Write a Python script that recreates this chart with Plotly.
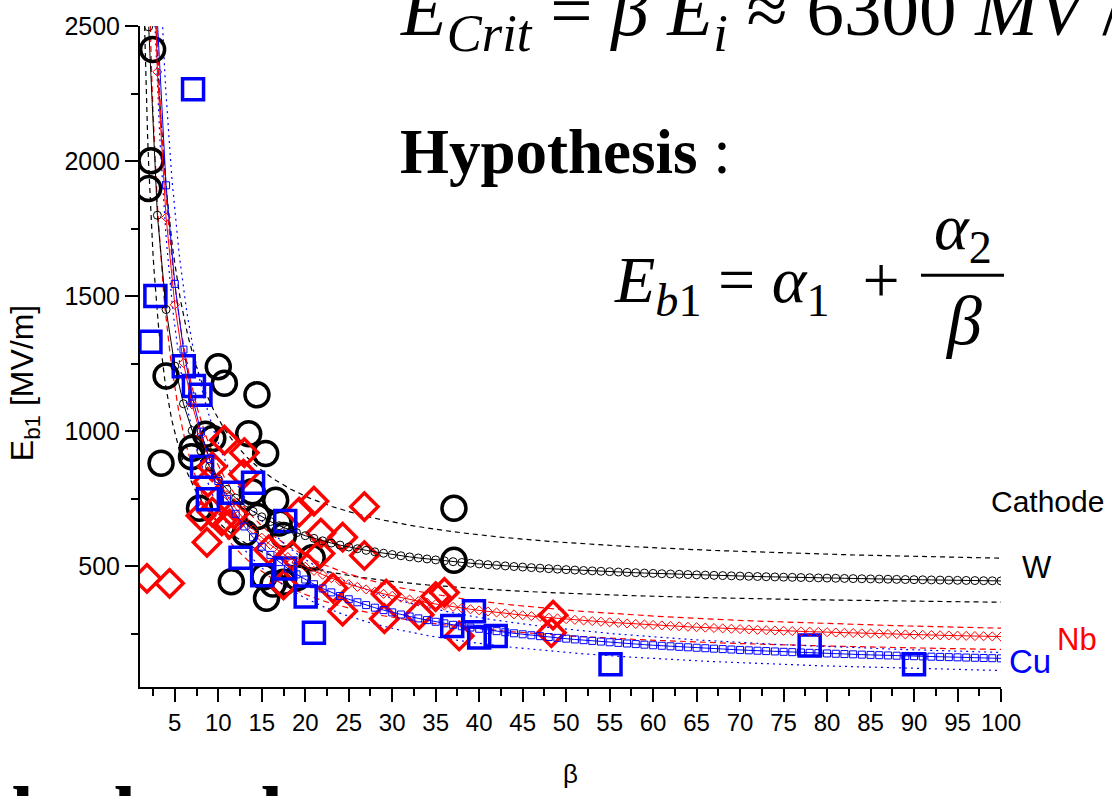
import numpy as np
import plotly.graph_objects as go

# ---------------- data ----------------
w_beta = [2.45, 2.27, 2.0, 4.0, 3.42, 10.0, 10.7, 14.45, 8.53, 9.37, 7.0, 6.92, 13.5, 15.45,
          7.84, 13.9, 16.6, 14.5, 17.0, 17.5, 13.1, 20.8, 11.5, 15.25, 15.55, 16.3, 17.5, 19.1,
          37.1, 37.1]
w_E = [2413, 2001, 1898, 1204, 881, 1238, 1177, 1134, 988, 972, 936, 905, 990, 917,
       714, 775, 744, 683, 659, 613, 621, 531, 442, 460, 381, 433, 440, 457,
       714, 521]

nb_beta = [1.8, 4.4, 8.7, 10.7, 13.0, 12.9, 9.3, 8.8, 9.3, 11.3, 8.0, 10.4, 11.8, 21.0,
           26.8, 19.3, 21.8, 24.3, 26.8, 21.7, 18.5, 17.5, 23.2, 24.3, 29.3, 29.1, 33.1,
           35.0, 36.0, 37.7, 48.5, 48.3, 15.8]
nb_E = [454, 436, 588, 966, 920, 840, 868, 810, 700, 655, 686, 667, 692, 740,
        720, 700, 622, 607, 539, 546, 539, 430, 418, 333, 396, 305, 320,
        387, 402, 241, 318, 253, 560]

cu_beta = [7.1, 2.77, 2.2, 6.03, 7.2, 7.95, 8.14, 8.8, 11.6, 14.0, 17.7, 12.56, 15.05, 17.7,
           20.05, 21.0, 36.9, 39.4, 40.0, 41.9, 55.1, 78.0, 90.0]
cu_E = [2266, 1500, 1331, 1240, 1167, 1134, 868, 747, 771, 808, 667, 531, 466, 491,
        387, 253, 278, 333, 235, 241, 136, 206, 136]

# fit parameters  E = a1 + a2/beta  (fit, upper band, lower band)
w_fit = [403, 4188]
w_upper = [472, 5733]
w_lower = [333, 3300]
nb_fit = [174, 6468]
nb_upper = [203, 6690]
nb_lower = [140, 5100]
cu_fit = [85, 7300]
cu_upper = [94, 8600]
cu_lower = [46, 6700]

x_ticks = [5, 10, 15, 20, 25, 30, 35, 40, 45, 50, 55, 60, 65, 70, 75, 80, 85, 90, 95, 100]
y_ticks = [500, 1000, 1500, 2000, 2500]

BLACK = "#000000"
RED = "#ff0000"
BLUE = "#0000ff"

fit_beta = np.arange(2, 101, 1.0)
band_beta = np.linspace(1.0, 100, 800)


def curve(p, b):
    return p[0] + p[1] / b


fig = go.Figure()

# bands
for p, col, dash in [(w_upper, BLACK, "5px,4px"), (w_lower, BLACK, "5px,4px"),
                     (nb_upper, RED, "6px,4px"), (nb_lower, RED, "6px,4px"),
                     (cu_upper, BLUE, "2px,4px"), (cu_lower, BLUE, "2px,4px")]:
    fig.add_trace(go.Scatter(x=band_beta, y=curve(p, band_beta), mode="lines",
                             line=dict(color=col, width=1.2, dash=dash), hoverinfo="skip"))

# data
fig.add_trace(go.Scatter(x=w_beta, y=w_E, mode="markers", name="W",
                         marker=dict(symbol="circle-open", size=24, color=BLACK,
                                     line=dict(width=3.5, color=BLACK))))
fig.add_trace(go.Scatter(x=nb_beta, y=nb_E, mode="markers", name="Nb",
                         marker=dict(symbol="diamond-open", size=21, color=RED,
                                     line=dict(width=3.5, color=RED))))
fig.add_trace(go.Scatter(x=cu_beta, y=cu_E, mode="markers", name="Cu",
                         marker=dict(symbol="square-open", size=21, color=BLUE,
                                     line=dict(width=3.5, color=BLUE))))

# fits
for p, col, sym, sz in [(w_fit, BLACK, "circle-open", 8), (nb_fit, RED, "diamond-open", 7),
                        (cu_fit, BLUE, "square-open", 7)]:
    fig.add_trace(go.Scatter(x=fit_beta, y=curve(p, fit_beta), mode="lines+markers",
                             line=dict(color=col, width=1),
                             marker=dict(symbol=sym, size=sz, color=col,
                                         line=dict(width=1, color=col))))

L, R, T, B = 140, 1001, 20, 688


def px(x):
    return (x - L) / (R - L)


def py(y):
    return (B - y) / (B - T)


serif = "Liberation Serif, Times New Roman, serif"
sans = "Liberation Sans, Arial, sans-serif"

ann = []
ann.append(dict(text="<i>E</i><sub><i>Crit</i></sub> = <i>β E</i><sub><i>i</i></sub> ≈ 6300 <i>MV</i> / <i>m</i>",
                x=px(398), y=py(9), xanchor="left", yanchor="middle",
                font=dict(family=serif, size=75, color=BLACK)))
ann.append(dict(text="<b>Hypothesis</b> :", x=px(398), y=py(147), xanchor="left", yanchor="middle",
                font=dict(family=serif, size=63, color=BLACK)))
ann.append(dict(text="<i>E</i><sub><i>b</i>1</sub> = <i>α</i><sub>1</sub>  + ",
                x=px(612), y=py(281), xanchor="left", yanchor="middle",
                font=dict(family=serif, size=66, color=BLACK)))
ann.append(dict(text="<i>α</i><sub>2</sub>", x=px(963), y=py(228), xanchor="center", yanchor="middle",
                font=dict(family=serif, size=66, color=BLACK)))
ann.append(dict(text="<i>β</i>", x=px(963), y=py(318), xanchor="center", yanchor="middle",
                font=dict(family=serif, size=70, color=BLACK)))
ann.append(dict(text="<b>calculated</b>", x=px(-66), y=py(817), xanchor="left", yanchor="middle",
                font=dict(family=serif, size=80, color=BLACK)))
ann.append(dict(text="Cathode", x=px(1106), y=py(501), xanchor="right", yanchor="middle",
                font=dict(family=sans, size=30, color=BLACK)))
ann.append(dict(text="W", x=px(1037), y=py(567), xanchor="center", yanchor="middle",
                font=dict(family=sans, size=31, color=BLACK)))
ann.append(dict(text="Nb", x=px(1077), y=py(640), xanchor="center", yanchor="middle",
                font=dict(family=sans, size=31, color=RED)))
ann.append(dict(text="Cu", x=px(1030), y=py(662), xanchor="center", yanchor="middle",
                font=dict(family=sans, size=33, color=BLUE)))
ann.append(dict(text="E<sub>b1</sub> [MV/m]", x=px(24), y=py(381), xanchor="center", yanchor="middle",
                textangle=-90, font=dict(family=sans, size=32, color=BLACK)))
for a in ann:
    a.update(xref="paper", yref="paper", showarrow=False)

fig.update_layout(
    width=1112, height=796,
    margin=dict(l=L, r=1112 - R, t=T, b=796 - B),
    plot_bgcolor="white", paper_bgcolor="white",
    showlegend=False,
    annotations=ann,
    shapes=[dict(type="line", xref="paper", yref="paper", x0=px(921), x1=px(1004),
                 y0=py(272), y1=py(272), line=dict(color=BLACK, width=3))],
    xaxis=dict(range=[1, 100], tickvals=x_ticks, ticktext=[str(v) for v in x_ticks],
               ticks="outside", ticklen=13, tickwidth=2, tickcolor=BLACK, tickangle=0,
               showline=True, linecolor=BLACK, linewidth=2, showgrid=False, zeroline=False,
               tickfont=dict(family=sans, size=24, color=BLACK),
               minor=dict(tickvals=[v - 2.5 for v in x_ticks], ticks="outside", ticklen=7,
                          tickwidth=2, tickcolor=BLACK, showgrid=False),
               title=dict(text="β", font=dict(family=sans, size=26, color=BLACK), standoff=30)),
    yaxis=dict(range=[52, 2500], tickvals=y_ticks, ticktext=[str(v) for v in y_ticks],
               ticks="outside", ticklen=13, tickwidth=2, tickcolor=BLACK,
               showline=True, linecolor=BLACK, linewidth=2, showgrid=False, zeroline=False,
               tickfont=dict(family=sans, size=25, color=BLACK),
               minor=dict(tickvals=[v - 250 for v in y_ticks], ticks="outside", ticklen=7,
                          tickwidth=2, tickcolor=BLACK, showgrid=False)),
)

fig.write_html("out.html")
